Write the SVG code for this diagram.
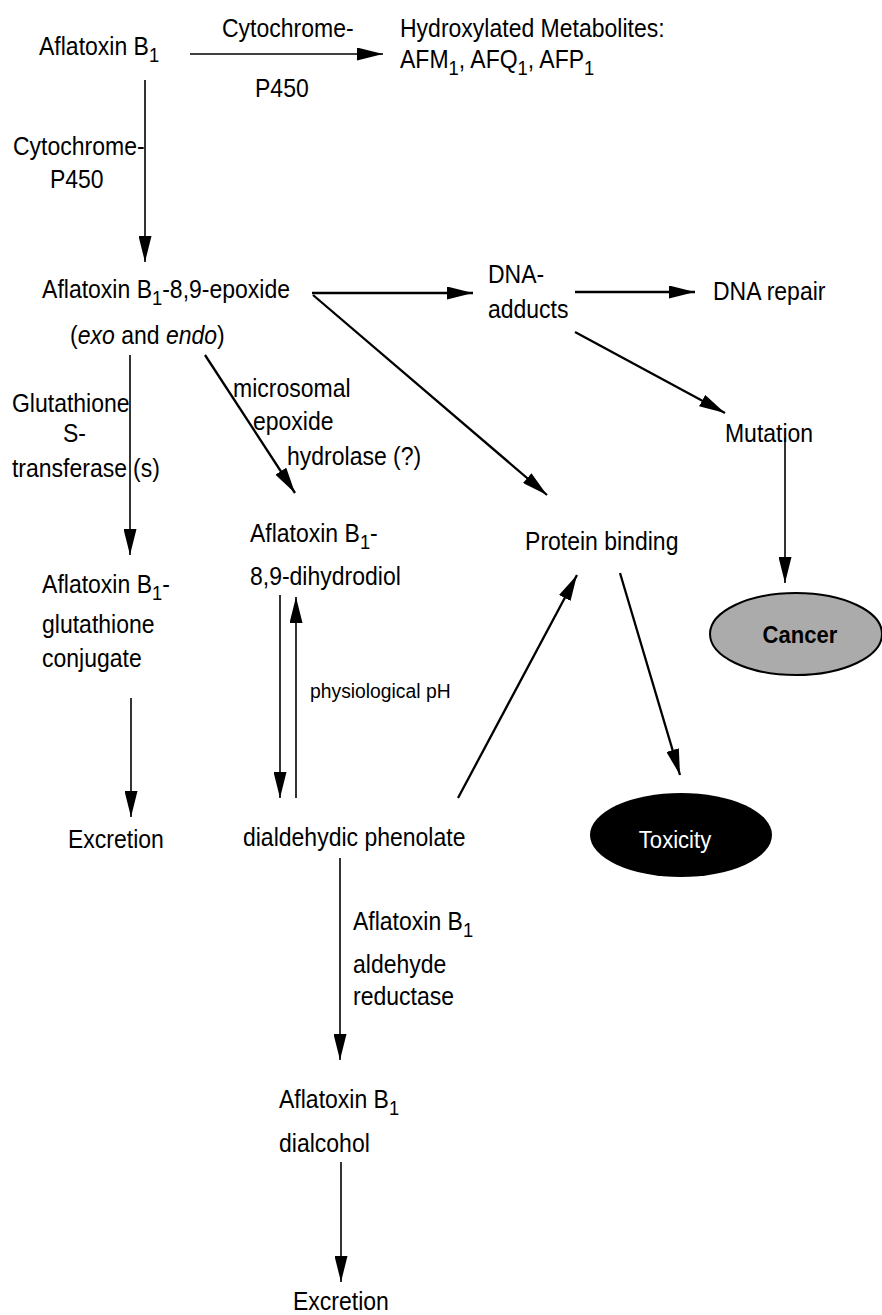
<svg xmlns="http://www.w3.org/2000/svg" width="882" height="1315" viewBox="0 0 882 1315">
<style>
text{font-family:"Liberation Sans",Arial,sans-serif;font-size:25px;fill:#000}
.n{transform:scale(0.92,1)}
.sub{font-size:20px}
.sm{font-size:21px}
.edge{stroke:#000;stroke-width:1.6;fill:none;marker-end:url(#ah)}
.thick{stroke-width:2.3}
.cancer{font-weight:bold;font-size:24px}
.tox{fill:#fff;font-size:24px}
</style>
<defs>
<marker id="ah" markerUnits="userSpaceOnUse" markerWidth="26" markerHeight="13" refX="26" refY="6.5" orient="auto">
<path d="M0,0 L26,6.5 L0,13 Z" fill="#000"/>
</marker>
</defs>
<rect width="882" height="1315" fill="#fff"/>
<g id="connectors">
<line class="edge" x1="190" y1="54" x2="383" y2="54"/>
<line class="edge" x1="145" y1="80" x2="145" y2="262"/>
<line class="edge thick" x1="312" y1="293" x2="473" y2="293"/>
<line class="edge thick" x1="313" y1="295" x2="547" y2="495"/>
<line class="edge thick" x1="575" y1="292" x2="695" y2="292"/>
<line class="edge thick" x1="575" y1="332" x2="725" y2="413"/>
<line class="edge" x1="785" y1="438" x2="785" y2="583"/>
<line class="edge" x1="130" y1="355" x2="130" y2="555"/>
<line class="edge thick" x1="205" y1="355" x2="295" y2="493"/>
<line class="edge" x1="280" y1="595" x2="280" y2="798"/>
<line class="edge" x1="296" y1="798" x2="296" y2="597"/>
<line class="edge" x1="131" y1="698" x2="131" y2="817"/>
<line class="edge thick" x1="458" y1="798" x2="577" y2="575"/>
<line class="edge thick" x1="620" y1="573" x2="680" y2="775"/>
<line class="edge" x1="340" y1="858" x2="340" y2="1060"/>
<line class="edge" x1="341" y1="1162" x2="341" y2="1282"/>
</g>
<g id="edge-labels" transform="scale(0.92 1)">
<text x="241.3" y="37">Cytochrome-</text>
<text x="277.2" y="97">P450</text>
<text x="14.1" y="155">Cytochrome-</text>
<text x="54.3" y="188">P450</text>
<text x="13" y="412">Glutathione</text>
<text x="68.5" y="442">S-</text>
<text x="13" y="477">transferase</text>
<text x="144.6" y="477">(s)</text>
<text x="253.3" y="397">microsomal</text>
<text x="275" y="430">epoxide</text>
<text x="312" y="465">hydrolase (?)</text>
<text class="sm" x="337" y="698">physiological pH</text>
<text x="383.7" y="930">Aflatoxin B<tspan class="sub" dy="7">1</tspan></text>
<text x="383.7" y="973">aldehyde</text>
<text x="383.7" y="1005">reductase</text>
</g>
<g id="n-afb1" transform="scale(0.92 1)"><text x="42.4" y="55">Aflatoxin B<tspan class="sub" dy="7">1</tspan></text></g>
<g id="n-hydroxylated" transform="scale(0.92 1)">
<text x="434.8" y="37">Hydroxylated Metabolites:</text>
<text x="434.8" y="68">AFM<tspan class="sub" dy="7">1</tspan><tspan dy="-7">, AFQ</tspan><tspan class="sub" dy="7">1</tspan><tspan dy="-7">, AFP</tspan><tspan class="sub" dy="7">1</tspan></text>
</g>
<g id="n-epoxide" transform="scale(0.92 1)">
<text x="45.7" y="298">Aflatoxin B<tspan class="sub" dy="7">1</tspan><tspan dy="-7">-8,9-epoxide</tspan></text>
<text x="76.1" y="344">(<tspan font-style="italic">exo</tspan> and <tspan font-style="italic">endo</tspan>)</text>
</g>
<g id="n-dna-adducts" transform="scale(0.92 1)">
<text x="530.4" y="283">DNA-</text>
<text x="530.4" y="318">adducts</text>
</g>
<g id="n-dna-repair" transform="scale(0.92 1)"><text x="775" y="300">DNA repair</text></g>
<g id="n-mutation" transform="scale(0.92 1)"><text x="788" y="442">Mutation</text></g>
<g id="n-dihydrodiol" transform="scale(0.92 1)">
<text x="271.7" y="542">Aflatoxin B<tspan class="sub" dy="7">1</tspan><tspan dy="-7">-</tspan></text>
<text x="271.7" y="585">8,9-dihydrodiol</text>
</g>
<g id="n-protein-binding" transform="scale(0.92 1)"><text x="570.7" y="550">Protein binding</text></g>
<g id="n-gsh-conjugate" transform="scale(0.92 1)">
<text x="45.7" y="593">Aflatoxin B<tspan class="sub" dy="7">1</tspan><tspan dy="-7">-</tspan></text>
<text x="45.7" y="633">glutathione</text>
<text x="45.7" y="667">conjugate</text>
</g>
<g id="n-cancer">
<ellipse cx="796" cy="634" rx="86" ry="41" fill="#ababab" stroke="#000" stroke-width="2"/>
<text class="cancer" x="869.6" y="643" text-anchor="middle" transform="scale(0.92 1)">Cancer</text>
</g>
<g id="n-excretion-1" transform="scale(0.92 1)"><text x="73.9" y="848">Excretion</text></g>
<g id="n-dialdehydic" transform="scale(0.92 1)"><text x="264.1" y="846">dialdehydic phenolate</text></g>
<g id="n-toxicity">
<ellipse cx="681" cy="835" rx="91" ry="42" fill="#000"/>
<text class="tox" x="733.7" y="848" text-anchor="middle" transform="scale(0.92 1)">Toxicity</text>
</g>
<g id="n-dialcohol" transform="scale(0.92 1)">
<text x="303.3" y="1108">Aflatoxin B<tspan class="sub" dy="7">1</tspan></text>
<text x="303.3" y="1152">dialcohol</text>
</g>
<g id="n-excretion-2" transform="scale(0.92 1)"><text x="318.5" y="1310">Excretion</text></g>
</svg>
